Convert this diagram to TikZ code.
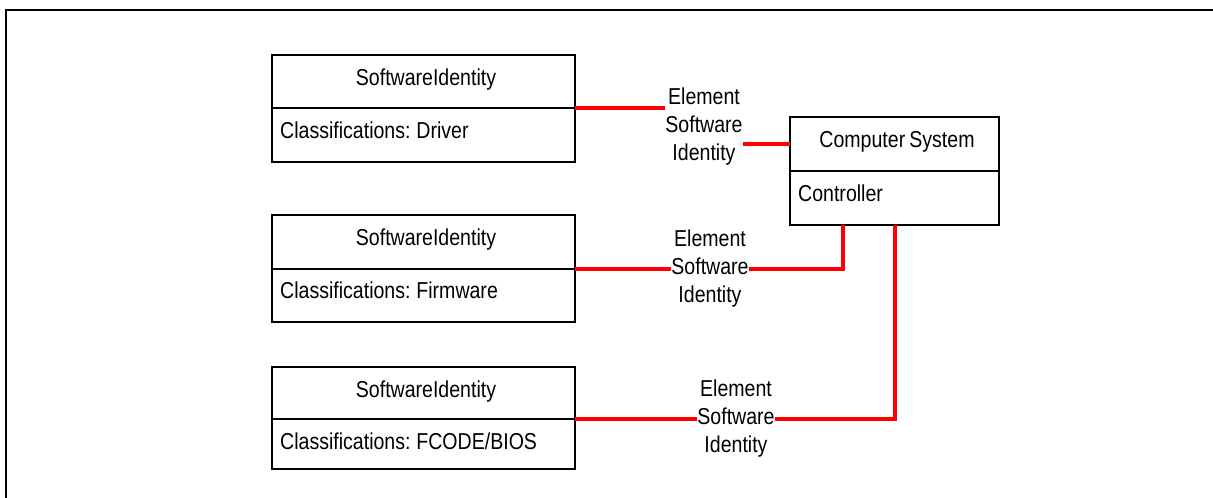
\documentclass[tikz,border=0pt]{standalone}
\usepackage{fontspec}
\setmainfont[FakeStretch=0.85,WordSpace=0.75]{Liberation Sans}
\newcommand\labfont{\fontsize{23}{28}\selectfont}
\begin{document}
\begin{tikzpicture}[x=1pt,y=-1pt,
  comp/.style={draw=black, line width=1.6pt, minimum width=303pt, inner sep=0pt, outer sep=0pt},
  cscomp/.style={comp, minimum width=209pt},
  txt/.style={font=\labfont, inner sep=0pt, text=black},
  lbl/.style={font=\labfont, align=center, inner sep=0pt, text=black},
  assoc/.style={draw=red, line width=3.2pt},
  frame/.style={draw=black, line width=2.4pt}]
\useasboundingbox (0,0) rectangle (1213,498);
\fill[white] (0,0) rectangle (1213,498);
% outer frame (cropped)
\coordinate (fa) at (6,500);
\coordinate (fb) at (6,10);
\coordinate (fc) at (1215,10);
\draw[frame] (fa) -- (fb) -- (fc);

% labels
\node[lbl] (l1) at (704,127) {Element\\Software\\Identity};
\node[lbl] (l2) at (710,269) {Element\\Software\\Identity};
\node[lbl] (l3) at (736,419) {Element\\Software\\Identity};

% Computer System box
\node[cscomp, minimum height=54pt] (csa) at (894.5,144) {};
\node[cscomp, minimum height=54pt] (csb) at (894.5,198) {};
\node[txt, anchor=base] (cst) at (897,147) {Computer System};
\node[txt, anchor=base west] (csc) at (798,201) {Controller};

% SoftwareIdentity boxes
\node[comp, minimum height=53pt] (b1a) at (423.5,81.5) {};
\node[comp, minimum height=54pt] (b1b) at (423.5,135) {};
\node[txt, anchor=base] (b1t) at (426,85) {SoftwareIdentity};
\node[txt, anchor=base west] (b1c) at (280,138) {Classifications: Driver};

\node[comp, minimum height=54pt] (b2a) at (423.5,242) {};
\node[comp, minimum height=53pt] (b2b) at (423.5,295.5) {};
\node[txt, anchor=base] (b2t) at (426,245) {SoftwareIdentity};
\node[txt, anchor=base west] (b2c) at (280,298) {Classifications: Firmware};

\node[comp, minimum height=52pt] (b3a) at (423.5,393) {};
\node[comp, minimum height=50pt] (b3b) at (423.5,444) {};
\node[txt, anchor=base] (b3t) at (426,397) {SoftwareIdentity};
\node[txt, anchor=base west] (b3c) at (280,449) {Classifications: FCODE/BIOS};

% connectors
\coordinate (p2) at (843,225);
\coordinate (p3) at (895,225);
\draw[assoc] (b1a.south east) -- (b1a.south east -| l1.west);
\draw[assoc] (csa.west -| l1.east) -- (csa.west);
\draw[assoc] (b2a.south east) -- (b2a.south east -| l2.west);
\draw[assoc] (b2a.south east -| l2.east) -| (p2);
\draw[assoc] (b3a.south east) -- (b3a.south east -| l3.west);
\draw[assoc] (b3a.south east -| l3.east) -| (p3);
\end{tikzpicture}
\end{document}
